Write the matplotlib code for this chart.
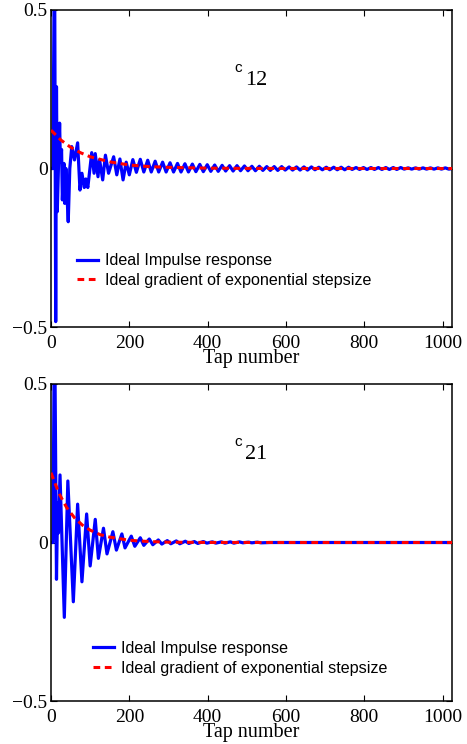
import matplotlib
matplotlib.use("Agg")
import matplotlib.pyplot as plt

# ---------------- data ----------------
# top panel: c12 impulse response (local extrema, taps / values)
c12_taps = [0, 5, 9, 12, 14, 16, 22, 24, 27, 29, 33, 35, 38, 41, 44, 48, 53, 60, 68,
            74, 79, 85, 89, 94, 104, 110, 113, 120, 124, 132, 139, 147, 160, 168,
            176, 184, 192, 200, 209,
            218, 228, 237, 247, 256, 266, 275, 285, 294, 304, 313, 323, 332, 342,
            351, 361, 370, 380, 389, 399, 408, 418, 427, 437, 446, 456, 465, 475,
            484, 494, 503, 513, 522, 532, 541, 551, 560, 570, 579, 589, 598, 608,
            617, 627, 636, 646, 655, 665, 674, 684, 693, 703, 712, 722, 731, 741,
            750, 760, 769, 779, 788, 798, 807, 817, 826, 836, 845, 855, 864, 874,
            883, 893, 902, 912, 921, 931, 940, 950, 959, 969, 978, 988, 997, 1007,
            1016, 1024]
c12_vals = [0.0, 0.0, 0.75, -0.483, 0.258, -0.136, 0.143, 0.02, 0.06, -0.099, 0.016,
            -0.11, 0.0, -0.09, -0.168, 0.0, 0.069, 0.027, 0.081,
            -0.068, -0.015, -0.06, -0.033, -0.06, 0.05, -0.015, 0.047, -0.026, 0.028,
            -0.036, 0.042, -0.015, 0.037, -0.02, 0.03, -0.036, 0.02, -0.02, 0.028,
            -0.012, 0.029, -0.011, 0.026, -0.011, 0.023, -0.011, 0.020, -0.011, 0.018,
            -0.011, 0.016, -0.011, 0.015, -0.011, 0.014, -0.010, 0.013, -0.010, 0.012,
            -0.009, 0.011, -0.009, 0.010, -0.008, 0.009, -0.008, 0.009, -0.007, 0.008,
            -0.007, 0.007, -0.007, 0.007, -0.006, 0.006, -0.006, 0.006, -0.006, 0.006,
            -0.005, 0.005, -0.005, 0.005, -0.005, 0.005, -0.005, 0.005, -0.004, 0.004,
            -0.004, 0.004, -0.004, 0.004, -0.004, 0.004, -0.004, 0.004, -0.003, 0.003,
            -0.003, 0.003, -0.003, 0.003, -0.003, 0.003, -0.003, 0.003, -0.003, 0.003,
            -0.003, 0.003, -0.002, 0.002, -0.002, 0.002, -0.002, 0.002, -0.002, 0.002,
            -0.002, 0.002, -0.002, 0.002, -0.002, 0.0]
# top panel: ideal gradient of exponential stepsize
g12_taps = [0, 25, 50, 75, 100, 150, 200, 250, 300, 400, 500, 700, 1024]
g12_vals = [0.121, 0.090, 0.067, 0.050, 0.037, 0.021, 0.011, 0.006, 0.0036, 0.0011,
            0.0003, 0.0, 0.0]

# bottom panel: c21 impulse response
c21_taps = [0, 5, 9, 14, 17, 19, 23, 34, 43, 57, 68, 79, 91, 100, 113, 121, 134, 143,
            158, 167, 181, 189, 205, 214, 228, 237, 251, 260, 274, 283, 297, 306, 320,
            329, 343, 352, 366, 375, 389, 398, 412, 421, 435, 444, 458, 467, 481, 490,
            504, 513, 527, 536, 560, 1024]
c21_vals = [0.0, 0.0, 0.75, -0.116, 0.124, 0.03, 0.213, -0.236, 0.194, -0.187, 0.121,
            -0.124, 0.09, -0.074, 0.073, -0.05, 0.045, -0.036, 0.034, -0.024, 0.027,
            -0.017, 0.02, -0.012, 0.015, -0.009, 0.011, -0.007, 0.008, -0.005, 0.006,
            -0.004, 0.005, -0.004, 0.004, -0.003, 0.003, -0.003, 0.003, -0.002, 0.002,
            -0.002, 0.002, -0.002, 0.002, -0.002, 0.002, -0.001, 0.001, -0.001, 0.001,
            -0.001, 0.0, 0.0]
g21_taps = [0, 20, 40, 60, 80, 100, 125, 150, 200, 250, 300, 400, 600, 1024]
g21_vals = [0.22, 0.156, 0.110, 0.078, 0.055, 0.039, 0.025, 0.017, 0.007, 0.003,
            0.001, 0.0002, 0.0, 0.0]

xticks = [0, 200, 400, 600, 800, 1000]
yticks = [-0.5, 0, 0.5]
ytick_labels = ["\u22120.5", "0", "0.5"]
labels = ["Ideal Impulse response", "Ideal gradient of exponential stepsize"]
panel_sub = ["12", "21"]
xlabel = "Tap number"

# ---------------- drawing ----------------
serif = ["Liberation Serif", "DejaVu Serif"]
sans = ["Liberation Sans", "DejaVu Sans"]

fig = plt.figure(figsize=(4.67, 7.44), dpi=100)
W, H = 467.0, 744.0
ax_rects = [
    (51 / W, 1 - 327 / H, 401 / W, 317 / H),
    (51 / W, 1 - 701 / H, 401 / W, 317 / H),
]
legend_anchor = [(0.064, 0.233), (0.104, 0.190)]

panels = [(c12_taps, c12_vals, g12_taps, g12_vals),
          (c21_taps, c21_vals, g21_taps, g21_vals)]

for i, (bt, bv, rt, rv) in enumerate(panels):
    ax = fig.add_axes(ax_rects[i])
    ax.plot(bt, bv, color=(0, 0, 1), lw=2.3, solid_joinstyle="round",
            label=labels[0], zorder=2)
    ax.plot(rt, rv, color=(1, 0, 0), lw=2.2, dashes=(2.2, 1.5),
            label=labels[1], zorder=3)
    ax.set_xlim(0, 1024)
    ax.set_ylim(-0.5, 0.5)
    ax.set_xticks(xticks)
    ax.set_xticklabels([str(t) for t in xticks], family=serif, fontsize=14)
    ax.set_yticks(yticks)
    ax.set_yticklabels(ytick_labels, family=serif, fontsize=14)
    ax.tick_params(axis="x", direction="in", length=4, width=0.8, top=True, pad=6)
    ax.tick_params(axis="y", direction="in", length=4, width=0.8, right=True, pad=2.5)
    for sp in ax.spines.values():
        sp.set_linewidth(1.1)
    ax.set_xlabel(xlabel, family=serif, fontsize=14.5)
    ax.xaxis.set_label_coords(0.5, -0.1)
    ax.xaxis.label.set_verticalalignment("center")

    ax.text(0.457, 0.816, "c", transform=ax.transAxes, family=sans, fontsize=11,
            ha="left", va="center")
    ax.text(0.484, 0.779, panel_sub[i], transform=ax.transAxes, family=serif,
            fontsize=16, ha="left", va="center")

    ax.legend(loc="upper left", bbox_to_anchor=legend_anchor[i], frameon=False,
              prop={"family": sans, "size": 11.6}, handlelength=1.3,
              handletextpad=0.45, labelspacing=0.3, borderpad=0, borderaxespad=0)

fig.savefig("out.png", dpi=100)
